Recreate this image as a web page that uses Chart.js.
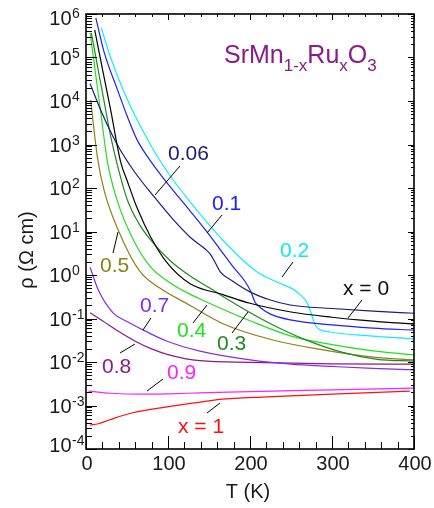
<!DOCTYPE html>
<html>
<head>
<meta charset="utf-8">
<script src="https://cdn.jsdelivr.net/npm/chart.js"></script>
<style>
  html, body { margin: 0; padding: 0; background: #fff; }
  canvas { display: block; }
</style>
</head>
<body>
<canvas id="chart" width="434" height="508"></canvas>
<script>
// resistivity rho (Ohm cm) vs temperature T (K)
var T_x0 = [10.6, 20, 30, 42, 50, 62, 79, 99, 127, 167, 200, 250, 300, 350, 400];
var rho_x0 = [4.3e5, 5.5e4, 6.3e3, 417, 151, 36, 7.4, 1.9, 0.63, 0.355, 0.224, 0.141, 0.107, 0.087, 0.074];

var T_x006 = [5, 20, 38, 60, 83, 107, 127, 145, 152, 158, 164, 179, 200, 224, 249, 300, 350, 400];
var rho_x006 = [2.5e4, 5.0e3, 1.0e3, 224, 63, 18.2, 7.4, 4.0, 2.95, 1.86, 1.17, 0.72, 0.41, 0.27, 0.204, 0.17, 0.148, 0.132];

var T_x01 = [12, 22, 38, 50, 62.5, 75, 90, 106, 127, 148, 163, 179, 194, 201, 206, 214, 225, 249, 300, 350, 400];
var rho_x01 = [8.1e5, 1.35e5, 1.9e4, 4.6e3, 1.26e3, 525, 214, 89, 29.5, 9.5, 4.0, 1.58, 0.71, 0.42, 0.24, 0.170, 0.126, 0.093, 0.071, 0.060, 0.054];

var T_x02 = [18.7, 30, 50, 80, 100, 127, 167, 208, 240, 252, 262, 270, 275, 279, 285, 298, 330, 400];
var rho_x02 = [4.8e5, 1.0e5, 1.12e4, 890, 224, 48, 6.3, 1.2, 0.60, 0.48, 0.34, 0.224, 0.126, 0.074, 0.056, 0.049, 0.042, 0.034];

var T_x03 = [6.5, 15, 22, 30, 38, 50, 64, 79, 103, 127, 155, 172, 196, 230, 265, 313, 355, 400];
var rho_x03 = [3.7e5, 5.0e4, 1.0e4, 1.58e3, 355, 56, 15.8, 6.3, 2.1, 0.95, 0.45, 0.28, 0.151, 0.068, 0.034, 0.0166, 0.0115, 0.0105];

var T_x04 = [5, 12, 18, 26, 38, 58, 79, 100, 120, 147, 200, 249, 300, 350, 400];
var rho_x04 = [3.7e5, 3.8e4, 5.4e3, 417, 52, 6.3, 1.51, 0.71, 0.42, 0.24, 0.089, 0.040, 0.025, 0.018, 0.0145];

var T_x05 = [5.7, 10, 14, 22, 40, 65, 90, 125, 167, 228, 289, 350, 400];
var rho_x05 = [1.05e4, 2.0e3, 500, 89, 10, 1.26, 0.50, 0.21, 0.076, 0.032, 0.019, 0.0129, 0.0112];

var T_x07 = [5, 15, 33, 50, 70, 99, 139, 200, 250, 300, 350, 400];
var rho_x07 = [1.51, 0.45, 0.135, 0.085, 0.054, 0.030, 0.0178, 0.0112, 0.0089, 0.0079, 0.0071, 0.0066];

var T_x08 = [5, 20, 40, 60, 80, 100, 139, 200, 300, 400];
var rho_x08 = [0.135, 0.089, 0.050, 0.030, 0.020, 0.0148, 0.0107, 0.0098, 0.0091, 0.0089];

var T_x09 = [3, 30, 66, 100, 139, 200, 300, 400];
var rho_x09 = [2.14e-3, 1.91e-3, 1.82e-3, 1.86e-3, 1.95e-3, 2.09e-3, 2.29e-3, 2.51e-3];

var T_x1 = [5, 15, 29, 57, 99, 140, 163, 221, 300, 395];
var rho_x1 = [3.55e-4, 3.8e-4, 4.7e-4, 6.8e-4, 9.3e-4, 1.2e-3, 1.38e-3, 1.58e-3, 1.82e-3, 2.14e-3];

var xTicks = [0, 100, 200, 300, 400];
var yExponents = [-4, -3, -2, -1, 0, 1, 2, 3, 4, 5, 6];

var FONT = '"Liberation Sans", Arial, Helvetica, sans-serif';

var series = [
  { T: T_x0,   rho: rho_x0,   color: '#000000' },
  { T: T_x006, rho: rho_x006, color: '#1c1c7a' },
  { T: T_x01,  rho: rho_x01,  color: '#2020f0' },
  { T: T_x02,  rho: rho_x02,  color: '#10f0f8' },
  { T: T_x03,  rho: rho_x03,  color: '#1f8a1f' },
  { T: T_x04,  rho: rho_x04,  color: '#20e020' },
  { T: T_x05,  rho: rho_x05,  color: '#8c8214' },
  { T: T_x07,  rho: rho_x07,  color: '#8a2be8' },
  { T: T_x08,  rho: rho_x08,  color: '#8b1a8b' },
  { T: T_x09,  rho: rho_x09,  color: '#ff20ff' },
  { T: T_x1,   rho: rho_x1,   color: '#ff1010' }
];

// curve labels: text, colour, left x, baseline y, pointer line
var labels = [
  { t: '0.06',  c: '#1c1c7a', x: 168, y: 160, p: [180, 166, 155, 195] },
  { t: '0.1',   c: '#2020f0', x: 212, y: 210, p: [222, 215, 207, 233] },
  { t: '0.2',   c: '#10e8f0', x: 280, y: 257, p: [293, 262, 282, 277] },
  { t: 'x = 0', c: '#111111', x: 343, y: 295, p: [362, 300, 348, 318] },
  { t: '0.5',   c: '#8c8214', x: 100, y: 272, p: [118, 232, 113, 253] },
  { t: '0.7',   c: '#8a2be8', x: 140, y: 312, p: [151, 318, 143, 330] },
  { t: '0.4',   c: '#20e020', x: 177, y: 337, p: [193, 323, 207, 305] },
  { t: '0.3',   c: '#1f8a1f', x: 217, y: 350, p: [232, 333, 248, 312] },
  { t: '0.8',   c: '#8b1a8b', x: 102, y: 373, p: [120, 353, 135, 344] },
  { t: '0.9',   c: '#ff20ff', x: 167, y: 379, p: [147, 391, 163, 379] },
  { t: 'x = 1', c: '#ff1010', x: 178, y: 433, p: [207, 413, 220, 403] }
];

var decor = {
  id: 'decor',
  afterDraw: function (chart) {
    var ctx = chart.ctx;
    var a = chart.chartArea;
    var xs = chart.scales.x, ys = chart.scales.y;
    ctx.save();

    // frame
    ctx.strokeStyle = '#000';
    ctx.lineWidth = 1.6;
    ctx.strokeRect(a.left, a.top, a.right - a.left, a.bottom - a.top);

    // ticks, all pointing inward
    ctx.lineWidth = 1;
    ctx.beginPath();
    for (var t = 0; t <= 400; t += 20) {
      var px = Math.round(xs.getPixelForValue(t)) + 0.5;
      var major = t % 100 === 0;
      ctx.moveTo(px, a.bottom); ctx.lineTo(px, a.bottom - (major ? 13 : 7));
      ctx.moveTo(px, a.top); ctx.lineTo(px, a.top + (major ? 6 : 3));
    }
    for (var e = -4; e <= 6; e++) {
      for (var m = 1; m <= 9; m++) {
        if (e === 6 && m > 1) break;
        var py = Math.round(ys.getPixelForValue(m * Math.pow(10, e))) + 0.5;
        var maj = m === 1;
        ctx.moveTo(a.left, py); ctx.lineTo(a.left + (maj ? 11 : 6), py);
        ctx.moveTo(a.right, py); ctx.lineTo(a.right - (maj ? 6 : 3), py);
      }
    }
    ctx.stroke();

    // y tick labels 10^n
    ctx.fillStyle = '#1a1a1a';
    yExponents.forEach(function (e) {
      var y = ys.getPixelForValue(Math.pow(10, e)) + 7;
      if (e === 6) y += 4;
      if (e === -4) y -= 4;
      ctx.font = '20px ' + FONT;
      ctx.textAlign = 'right';
      ctx.fillText('10', 71.5, y);
      ctx.font = '14px ' + FONT;
      ctx.textAlign = 'left';
      ctx.fillText(String(e), 72, y - 7);
    });

    // x tick labels
    ctx.font = '20px ' + FONT;
    ctx.textAlign = 'center';
    xTicks.forEach(function (t) {
      ctx.fillText(String(t), xs.getPixelForValue(t) + 1, 470);
    });

    // axis titles
    ctx.fillText('T (K)', 248, 498);
    ctx.save();
    ctx.translate(33, 250);
    ctx.rotate(-Math.PI / 2);
    ctx.fillText('\u03c1 (\u03a9 cm)', 0, 0);
    ctx.restore();

    // pointer lines and curve labels
    ctx.strokeStyle = '#000';
    ctx.lineWidth = 1;
    ctx.textAlign = 'left';
    ctx.font = '21px ' + FONT;
    labels.forEach(function (l) {
      ctx.beginPath();
      ctx.moveTo(l.p[0], l.p[1]);
      ctx.lineTo(l.p[2], l.p[3]);
      ctx.stroke();
      ctx.fillStyle = l.c;
      ctx.fillText(l.t, l.x, l.y);
    });

    // formula SrMn(1-x)Ru(x)O3
    var parts = [['SrMn', 0], ['1-x', 1], ['Ru', 0], ['x', 1], ['O', 0], ['3', 1]];
    var x = 224;
    ctx.fillStyle = '#8b1a8b';
    parts.forEach(function (p) {
      ctx.font = (p[1] ? '17px ' : '25px ') + FONT;
      ctx.fillText(p[0], x, p[1] ? 71 : 63);
      x += ctx.measureText(p[0]).width;
    });

    ctx.restore();
  }
};

new Chart(document.getElementById('chart').getContext('2d'), {
  type: 'line',
  data: {
    datasets: series.map(function (s) {
      return {
        data: s.T.map(function (t, i) { return { x: t, y: s.rho[i] }; }),
        borderColor: s.color,
        borderWidth: 1.2,
        pointRadius: 0,
        fill: false,
        cubicInterpolationMode: 'monotone'
      };
    })
  },
  options: {
    responsive: false,
    animation: false,
    layout: { padding: { top: 14, right: 20, left: 0, bottom: 0 } },
    plugins: { legend: { display: false }, tooltip: { enabled: false } },
    scales: {
      x: {
        type: 'linear', min: 0, max: 400,
        ticks: { display: false }, grid: { display: false }, border: { display: false },
        afterFit: function (s) { s.height = 59; }
      },
      y: {
        type: 'logarithmic', min: 1e-4, max: 1e6,
        ticks: { display: false }, grid: { display: false }, border: { display: false },
        afterFit: function (s) { s.width = 86; }
      }
    }
  },
  plugins: [decor]
});
</script>
</body>
</html>
